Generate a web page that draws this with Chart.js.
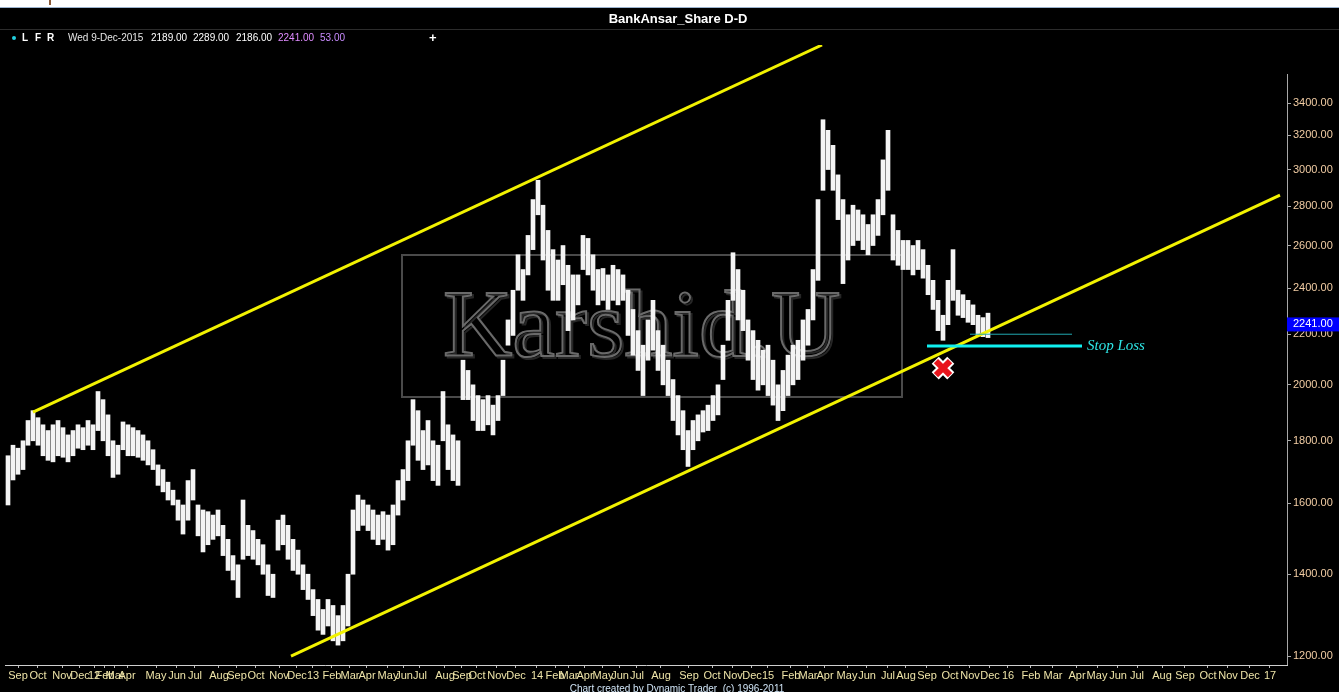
<!DOCTYPE html>
<html>
<head>
<meta charset="utf-8">
<script src="https://cdn.jsdelivr.net/npm/chart.js@4.4.0/dist/chart.umd.min.js"></script>
<style>
html, body { margin: 0; padding: 0; background: #000; overflow: hidden; }
canvas { display: block; }
</style>
</head>
<body>
<canvas id="chart" width="1339" height="692"></canvas>
<script>
// weekly-ish high/low bars, Sep 2011 .. 9 Dec 2015
const highs = [
  1750, 1785, 1775, 1800, 1870, 1905, 1880, 1855, 1835, 1855,
  1870, 1845, 1820, 1835, 1855, 1845, 1870, 1855, 1975, 1945,
  1890, 1800, 1785, 1865, 1855, 1845, 1835, 1820, 1800, 1770,
  1720, 1705, 1665, 1640, 1610, 1595, 1670, 1705, 1595, 1580,
  1575, 1565, 1580, 1535, 1495, 1450, 1425, 1610, 1535, 1520,
  1495, 1480, 1425, 1400, 1550, 1565, 1535, 1495, 1465, 1425,
  1400, 1360, 1335, 1310, 1335, 1320, 1295, 1320, 1400, 1580,
  1625, 1610, 1595, 1580, 1565, 1575, 1565, 1595, 1670, 1705,
  1800, 1945, 1905, 1835, 1870, 1800, 1785, 1975, 1855, 1820,
  1800, 2095, 2055, 2000, 1960, 1945, 1960, 1925, 1960, 2095,
  2260, 2390, 2555, 2485, 2650, 2835, 2940, 2805, 2675, 2580,
  2530, 2600, 2505, 2460, 2460, 2650, 2635, 2555, 2485, 2490,
  2460, 2505, 2485, 2460, 2390, 2305, 2215, 2155, 2260, 2345,
  2215, 2155, 2095, 2020, 1960, 1905, 1835, 1870, 1890, 1905,
  1925, 1960, 2000, 2155, 2345, 2565, 2485, 2390, 2260, 2215,
  2175, 2135, 2155, 2095, 2000, 2055, 2115, 2155, 2175, 2260,
  2305, 2485, 2835, 3295, 3230, 3140, 2970, 2835, 2755, 2805,
  2780, 2755, 2705, 2755, 2835, 3055, 3230, 2755, 2675, 2625,
  2625, 2600, 2625, 2580, 2505, 2435, 2345, 2280, 2435, 2580,
  2390, 2370, 2345, 2325, 2280, 2270, 2289
];
const lows = [
  1595, 1672, 1690, 1705, 1785, 1800, 1785, 1750, 1735, 1730,
  1750, 1745, 1730, 1750, 1775, 1770, 1785, 1770, 1835, 1800,
  1750, 1680, 1690, 1770, 1750, 1750, 1745, 1735, 1720, 1705,
  1655, 1635, 1610, 1595, 1550, 1510, 1550, 1610, 1505, 1460,
  1480, 1495, 1505, 1450, 1410, 1385, 1340, 1440, 1450, 1440,
  1425, 1400, 1345, 1340, 1465, 1480, 1440, 1410, 1400, 1360,
  1335, 1295, 1260, 1250, 1270, 1235, 1225, 1235, 1270, 1400,
  1520, 1535, 1520, 1495, 1480, 1495, 1465, 1480, 1565, 1610,
  1670, 1785, 1735, 1705, 1720, 1670, 1655, 1800, 1705, 1670,
  1655, 1945, 1945, 1870, 1835, 1835, 1855, 1820, 1870, 1960,
  2155, 2195, 2390, 2345, 2460, 2580, 2755, 2530, 2390, 2345,
  2345, 2415, 2215, 2260, 2325, 2485, 2460, 2390, 2325, 2345,
  2305, 2345, 2325, 2345, 2195, 2115, 2055, 1960, 2095, 2135,
  2055, 2000, 1960, 1870, 1820, 1770, 1715, 1770, 1800, 1830,
  1835, 1870, 1890, 2020, 2175, 2345, 2260, 2215, 2095, 2020,
  1980, 2000, 1960, 1925, 1870, 1905, 1960, 2000, 2020, 2095,
  2155, 2260, 2435, 2885, 3000, 2885, 2730, 2420, 2530, 2600,
  2625, 2580, 2555, 2600, 2650, 2755, 2885, 2530, 2505, 2485,
  2485, 2460, 2485, 2445, 2370, 2305, 2215, 2175, 2240, 2345,
  2280, 2270, 2250, 2240, 2195, 2190, 2186
];

// month tick labels and where they sit on the bar-index axis
const monthLabels = [
  'Sep', 'Oct', 'Nov', 'Dec', '12', 'Feb', 'Mar', 'Apr', 'May', 'Jun', 'Jul', 'Aug',
  'Sep', 'Oct', 'Nov', 'Dec', '13', 'Feb', 'Mar', 'Apr', 'May', 'Jun', 'Jul', 'Aug',
  'Sep', 'Oct', 'Nov', 'Dec', '14', 'Feb', 'Mar', 'Apr', 'May', 'Jun', 'Jul', 'Aug',
  'Sep', 'Oct', 'Nov', 'Dec', '15', 'Feb', 'Mar', 'Apr', 'May', 'Jun', 'Jul', 'Aug',
  'Sep', 'Oct', 'Nov', 'Dec', '16', 'Feb', 'Mar', 'Apr', 'May', 'Jun', 'Jul', 'Aug',
  'Sep', 'Oct', 'Nov', 'Dec', '17'
];
const monthPos = [
  2.0, 6.0, 10.8, 14.4, 17.2, 19.4, 21.4, 23.8, 29.6, 33.8, 37.4, 42.2,
  45.8, 49.6, 54.2, 57.8, 61.0, 64.8, 68.4, 71.8, 76.0, 79.2, 82.4, 87.4,
  90.8, 93.8, 97.8, 101.6, 105.8, 109.4, 112.2, 115.4, 119.0, 122.4, 125.8, 130.6,
  136.2, 140.8, 145.0, 148.8, 152.0, 156.6, 160.0, 163.4, 167.8, 171.8, 176.0, 179.6,
  183.8, 188.4, 192.4, 196.4, 200.0, 204.6, 209.0, 213.8, 217.8, 222.0, 225.8, 230.8,
  235.4, 240.0, 244.0, 248.4, 252.4
];
const yTicks = [1200, 1400, 1600, 1800, 2000, 2200, 2400, 2600, 2800, 3000, 3200, 3400];

// drawn studies
const upperChannel = [{x: 5, y: 1900}, {x: 162.8, y: 3793}];
const lowerChannel = [{x: 56.6, y: 1200}, {x: 254.4, y: 2859}];
const stopLoss = [{x: 183.8, y: 2152}, {x: 214.8, y: 2152}];
const stopRef = [{x: 192.4, y: 2200}, {x: 212.8, y: 2200}];
const exitMark = [{x: 187, y: 2064}];

const lastBar = {date: 'Wed 9-Dec-2015', open: 2189, high: 2289, low: 2186, close: 2241, vol: 53};

const FONT = '"Liberation Sans", Arial, sans-serif';

const bars = highs.map((h, i) => ({x: i, y: [lows[i], h]}));

const decor = {
    id: 'decor',
    beforeDraw(chart) {
        const c = chart.ctx;
        c.save();
        c.fillStyle = '#000';
        c.fillRect(0, 0, chart.width, chart.height);
        c.fillStyle = '#fff';
        c.fillRect(0, 0, chart.width, 7);
        c.fillStyle = '#9bb3cf';
        c.fillRect(0, 7, chart.width, 1);
        c.fillStyle = '#8a5a3a';
        c.fillRect(49, 0, 2, 5);

        c.fillStyle = '#fff';
        c.font = 'bold 13px ' + FONT;
        c.textAlign = 'center';
        c.textBaseline = 'middle';
        c.fillText('BankAnsar_Share D-D', 678, 19);
        c.fillStyle = '#2c2c2c';
        c.fillRect(0, 29, chart.width, 1);

        // legend row
        c.fillStyle = '#22d0e0';
        c.beginPath();
        c.arc(14, 38, 2, 0, Math.PI * 2);
        c.fill();
        c.textAlign = 'left';
        c.font = 'bold 10px ' + FONT;
        c.fillStyle = '#fff';
        c.fillText('L', 22, 38);
        c.fillText('F', 35, 38);
        c.fillText('R', 47, 38);
        c.font = '10px ' + FONT;
        c.fillStyle = '#e6e6e6';
        c.fillText(lastBar.date, 68, 38);
        c.fillStyle = '#fff';
        c.fillText(lastBar.open.toFixed(2), 151, 38);
        c.fillText(lastBar.high.toFixed(2), 193, 38);
        c.fillText(lastBar.low.toFixed(2), 236, 38);
        c.fillStyle = '#e08cff';
        c.fillText(lastBar.close.toFixed(2), 278, 38);
        c.fillStyle = '#c98cff';
        c.fillText(lastBar.vol.toFixed(2), 320, 38);
        c.fillStyle = '#fff';
        c.font = 'bold 13px ' + FONT;
        c.fillText('+', 429, 38);
        c.restore();
    },
    beforeDatasetsDraw(chart) {
        // watermark box and lettering
        const c = chart.ctx;
        c.save();
        c.strokeStyle = '#4a4a4a';
        c.lineWidth = 2;
        c.strokeRect(402, 255, 500, 142);
        c.font = '96px "Liberation Serif", serif';
        c.textAlign = 'left';
        c.textBaseline = 'alphabetic';
        c.lineWidth = 2;
        c.strokeStyle = '#262626';
        c.strokeText('Karshid.U', 445, 358);
        c.strokeStyle = '#6a6a6a';
        c.strokeText('Karshid.U', 443, 356);
        c.restore();
    },
    afterDraw(chart) {
        const c = chart.ctx;
        const x = chart.scales.x;
        const y = chart.scales.y;
        const area = chart.chartArea;
        c.save();
        // price axis line
        c.fillStyle = '#a8a8a8';
        c.fillRect(area.right, 74, 1, area.bottom - 74);

        // current price flag on the axis
        const py = y.getPixelForValue(lastBar.close);
        c.fillStyle = '#0000ff';
        c.fillRect(area.right, py - 7, 52, 14);
        c.fillStyle = '#fff';
        c.font = '11px ' + FONT;
        c.textAlign = 'left';
        c.textBaseline = 'middle';
        c.fillText(lastBar.close.toFixed(2), area.right + 6, py);

        c.fillStyle = '#2ee6e6';
        c.font = 'italic 15px "Liberation Serif", serif';
        c.fillText('Stop Loss', x.getPixelForValue(stopLoss[1].x) + 5, y.getPixelForValue(stopLoss[0].y));

        c.fillStyle = '#cfe3f5';
        c.font = '10px ' + FONT;
        c.textAlign = 'center';
        c.textBaseline = 'alphabetic';
        c.fillText('Chart created by Dynamic Trader  (c) 1996-2011', 677, 692);
        c.restore();
    }
};

new Chart(document.getElementById('chart'), {
    type: 'bar',
    data: {
        datasets: [
            {type: 'line', data: exitMark, showLine: false, pointStyle: 'crossRot', pointRadius: 10, pointBorderWidth: 6, borderColor: '#e8141c', backgroundColor: '#e8141c', order: 0},
            {type: 'line', data: exitMark, showLine: false, pointStyle: 'crossRot', pointRadius: 11, pointBorderWidth: 10, borderColor: '#ffffff', backgroundColor: '#ffffff', order: 1},
            {type: 'line', data: stopLoss, borderColor: '#10f0f0', borderWidth: 3, pointRadius: 0, order: 2},
            {type: 'line', data: stopRef, borderColor: '#20a8b0', borderWidth: 1, pointRadius: 0, order: 2},
            {type: 'line', data: upperChannel, borderColor: '#f2f200', borderWidth: 3, pointRadius: 0, order: 3},
            {type: 'line', data: lowerChannel, borderColor: '#f2f200', borderWidth: 3, pointRadius: 0, order: 3},
            {data: bars, backgroundColor: '#f4f4f4', borderWidth: 0, barThickness: 4, grouped: false, order: 5}
        ]
    },
    options: {
        responsive: false,
        devicePixelRatio: 1,
        animation: false,
        layout: {autoPadding: false, padding: {left: 5, top: 45, right: 0, bottom: 0}},
        plugins: {legend: {display: false}, tooltip: {enabled: false}},
        scales: {
            x: {
                type: 'linear',
                min: -0.6,
                max: 255.8,
                offset: false,
                grid: {display: true, drawOnChartArea: false, drawTicks: true, tickLength: 3, color: '#bdbdbd', offset: false},
                border: {display: true, color: '#cfcfcf'},
                ticks: {
                    autoSkip: false, maxRotation: 0, minRotation: 0, padding: 1,
                    color: '#eee4a8', font: {family: FONT, size: 11},
                    callback: (v, i) => monthLabels[i]
                },
                afterBuildTicks: s => { s.ticks = monthPos.map(v => ({value: v})); },
                afterFit: s => { s.height = 27; s.paddingLeft = 0; s.paddingRight = 0; }
            },
            y: {
                type: 'logarithmic',
                position: 'right',
                min: 1180,
                max: 3793,
                beginAtZero: false,
                grid: {display: true, drawOnChartArea: false, drawTicks: true, tickLength: 4, color: '#aaaaaa'},
                border: {display: false},
                ticks: {
                    padding: 2, color: '#f2cda4', font: {family: FONT, size: 11},
                    callback: v => Number(v).toFixed(2)
                },
                afterBuildTicks: s => { s.ticks = yTicks.map(v => ({value: v})); },
                afterFit: s => { s.width = 52; s.paddingTop = 0; s.paddingBottom = 0; }
            }
        }
    },
    plugins: [decor]
});
</script>
</body>
</html>
